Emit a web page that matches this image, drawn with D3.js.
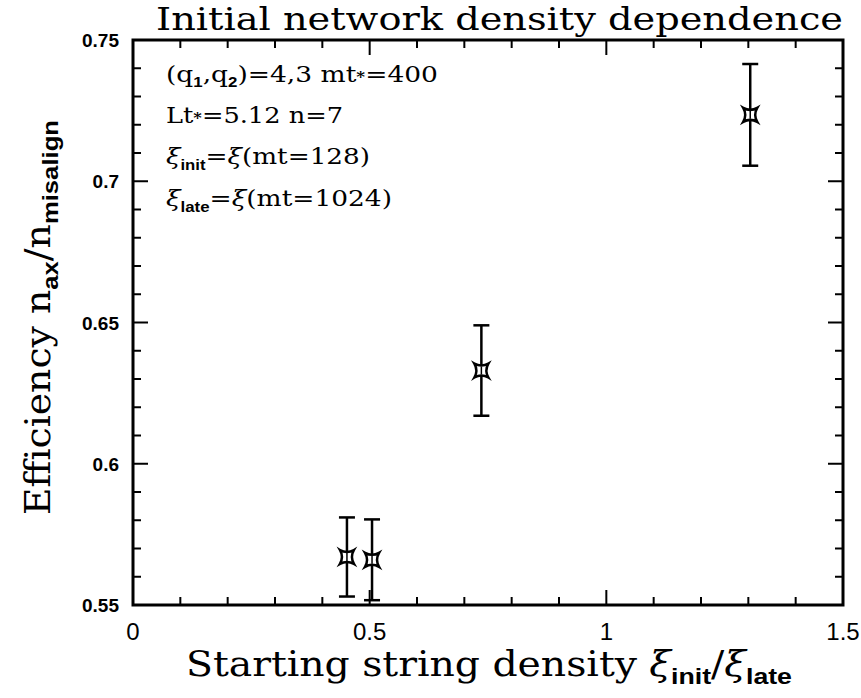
<!DOCTYPE html>
<html>
<head>
<meta charset="utf-8">
<script src="https://cdn.jsdelivr.net/npm/d3@7"></script>
<style>
  body { margin: 0; background: #fff; }
  svg { display: block; }
</style>
</head>
<body>
<svg id="chart" width="861" height="698"></svg>
<script>
// data
var xVals = [0.452, 0.505, 0.736, 1.304];
var yVals = [0.567, 0.566, 0.633, 0.7235];
var yErr = [0.014, 0.0143, 0.016, 0.018];
var xTicks = [0, 0.5, 1, 1.5];
var yTicks = [0.55, 0.6, 0.65, 0.7, 0.75];

var svg = d3.select("#chart");
var pL = 133, pR = 843, pT = 40, pB = 605;

var x = d3.scaleLinear().domain([0, 1.5]).range([pL, pR]);
var y = d3.scaleLinear().domain([0.55, 0.75]).range([pB, pT]);

var xMinor = d3.range(0, 1.5001, 0.1);
var yMinor = d3.range(0.55, 0.75001, 0.01);

// ticks on all four sides, pointing inward
function isMajor(v, step) { return Math.abs(v / step - Math.round(v / step)) < 1e-6; }

var tk = svg.append("g").attr("stroke", "#000").attr("stroke-width", 2);
xMinor.forEach(function(v) {
  var len = isMajor(v, 0.5) ? 15 : 8;
  tk.append("line").attr("x1", x(v)).attr("x2", x(v)).attr("y1", pB).attr("y2", pB - len);
  tk.append("line").attr("x1", x(v)).attr("x2", x(v)).attr("y1", pT).attr("y2", pT + len);
});
yMinor.forEach(function(v) {
  var len = isMajor(v, 0.05) ? 15 : 8;
  tk.append("line").attr("y1", y(v)).attr("y2", y(v)).attr("x1", pL).attr("x2", pL + len);
  tk.append("line").attr("y1", y(v)).attr("y2", y(v)).attr("x1", pR).attr("x2", pR - len);
});

svg.append("rect")
  .attr("x", pL).attr("y", pT)
  .attr("width", pR - pL).attr("height", pB - pT)
  .attr("fill", "none").attr("stroke", "#000").attr("stroke-width", 3);

// tick labels
svg.selectAll("text.xt").data(xTicks).enter().append("text")
  .attr("class", "xt")
  .attr("x", function(d) { return x(d); })
  .attr("y", 640)
  .attr("text-anchor", "middle")
  .attr("font-family", "Liberation Sans Narrow, Liberation Sans, sans-serif")
  .attr("font-size", 24)
  .text(function(d) { return d; });

svg.selectAll("text.yt").data(yTicks).enter().append("text")
  .attr("class", "yt")
  .attr("x", 119)
  .attr("y", function(d) { return y(d) + 7; })
  .attr("text-anchor", "end")
  .attr("font-family", "Liberation Sans, sans-serif")
  .attr("font-weight", "bold")
  .attr("font-size", 19)
  .text(function(d) { return d; });

// title
svg.append("text")
  .attr("x", 156).attr("y", 30)
  .attr("textLength", 687).attr("lengthAdjust", "spacingAndGlyphs")
  .attr("font-family", "DejaVu Serif Condensed, DejaVu Serif, serif")
  .attr("font-size", 32)
  .text("Initial network density dependence");

// x axis label
var xl = svg.append("text")
  .attr("x", 186).attr("y", 676)
  .attr("textLength", 606).attr("lengthAdjust", "spacingAndGlyphs")
  .attr("font-family", "DejaVu Serif Condensed, DejaVu Serif, serif")
  .attr("font-size", 36);
xl.append("tspan").text("Starting string density ");
xl.append("tspan").attr("font-style", "italic").text("ξ");
xl.append("tspan").attr("font-family", "Liberation Sans, sans-serif").attr("font-weight", "bold")
  .attr("font-size", 22).attr("dy", 8).text("init");
xl.append("tspan").attr("dy", -8).text("/");
xl.append("tspan").attr("font-style", "italic").text("ξ");
xl.append("tspan").attr("font-family", "Liberation Sans, sans-serif").attr("font-weight", "bold")
  .attr("font-size", 22).attr("dy", 8).text("late");

// y axis label
var yl = svg.append("text")
  .attr("transform", "translate(50,515) rotate(-90)")
  .attr("textLength", 395).attr("lengthAdjust", "spacingAndGlyphs")
  .attr("font-family", "DejaVu Serif Condensed, DejaVu Serif, serif")
  .attr("font-size", 36);
yl.append("tspan").text("Efficiency n");
yl.append("tspan").attr("font-family", "Liberation Sans, sans-serif").attr("font-weight", "bold")
  .attr("font-size", 22).attr("dy", 8).text("ax");
yl.append("tspan").attr("dy", -8).text("/n");
yl.append("tspan").attr("font-family", "Liberation Sans, sans-serif").attr("font-weight", "bold")
  .attr("font-size", 22).attr("dy", 8).text("misalign");

// annotation block
var ann = svg.append("g")
  .attr("font-family", "DejaVu Serif, serif")
  .attr("font-size", 22);
var subStyle = function(t, s) {
  t.attr("font-family", "Liberation Sans, sans-serif").attr("font-size", 14)
    .attr("font-weight", "bold").attr("dy", s);
};
var a1 = ann.append("text").attr("x", 166).attr("y", 82)
  .attr("textLength", 272).attr("lengthAdjust", "spacingAndGlyphs");
a1.append("tspan").text("(q");
a1.append("tspan").call(subStyle, 5).text("1");
a1.append("tspan").attr("dy", -5).text(",q");
a1.append("tspan").call(subStyle, 5).text("2");
a1.append("tspan").attr("dy", -5).text(")=4,3  mt");
a1.append("tspan").attr("font-size", 14).attr("font-weight", "bold").text("*");
a1.append("tspan").text("=400");

var a2 = ann.append("text").attr("x", 166).attr("y", 123)
  .attr("textLength", 177).attr("lengthAdjust", "spacingAndGlyphs");
a2.append("tspan").text("Lt");
a2.append("tspan").attr("font-size", 14).attr("font-weight", "bold").text("*");
a2.append("tspan").text("=5.12  n=7");

var a3 = ann.append("text").attr("x", 166).attr("y", 164)
  .attr("textLength", 204).attr("lengthAdjust", "spacingAndGlyphs");
a3.append("tspan").attr("font-style", "italic").text("ξ");
a3.append("tspan").call(subStyle, 6).text("init");
a3.append("tspan").attr("dy", -6).text("=");
a3.append("tspan").attr("font-style", "italic").text("ξ");
a3.append("tspan").text("(mt=128)");

var a4 = ann.append("text").attr("x", 166).attr("y", 206)
  .attr("textLength", 226).attr("lengthAdjust", "spacingAndGlyphs");
a4.append("tspan").attr("font-style", "italic").text("ξ");
a4.append("tspan").call(subStyle, 6).text("late");
a4.append("tspan").attr("dy", -6).text("=");
a4.append("tspan").attr("font-style", "italic").text("ξ");
a4.append("tspan").text("(mt=1024)");

// error bars
var pts = xVals.map(function(d, i) { return {x: d, y: yVals[i], e: yErr[i]}; });
var eb = svg.append("g").attr("stroke", "#000").attr("stroke-width", 2.5);
pts.forEach(function(p) {
  var cx = x(p.x);
  eb.append("line").attr("x1", cx).attr("x2", cx).attr("y1", y(p.y - p.e)).attr("y2", y(p.y + p.e));
  eb.append("line").attr("x1", cx - 8).attr("x2", cx + 8).attr("y1", y(p.y - p.e)).attr("y2", y(p.y - p.e));
  eb.append("line").attr("x1", cx - 8).attr("x2", cx + 8).attr("y1", y(p.y + p.e)).attr("y2", y(p.y + p.e));
});

// concave star markers
var star = "M-7,-7 Q0,-3 7,-7 Q3,0 7,7 Q0,3 -7,7 Q-3,0 -7,-7 Z";
svg.selectAll("path.pt").data(pts).enter().append("path")
  .attr("class", "pt")
  .attr("transform", function(d) { return "translate(" + x(d.x) + "," + y(d.y) + ")"; })
  .attr("d", star)
  .attr("fill", "#fff")
  .attr("stroke", "#000")
  .attr("stroke-width", 2.5);
svg.selectAll("line.pc").data(pts).enter().append("line")
  .attr("x1", function(d) { return x(d.x); }).attr("x2", function(d) { return x(d.x); })
  .attr("y1", function(d) { return y(d.y) - 4; }).attr("y2", function(d) { return y(d.y) + 4; })
  .attr("stroke", "#000").attr("stroke-width", 1.5);
</script>
</body>
</html>
